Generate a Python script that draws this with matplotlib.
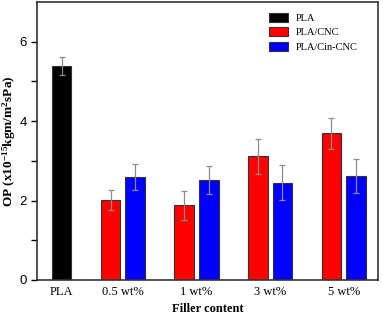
import matplotlib.pyplot as plt
import numpy as np

plt.rcParams['font.family'] = ['Liberation Serif', 'DejaVu Serif']
plt.rcParams['mathtext.fontset'] = 'custom'
plt.rcParams['mathtext.rm'] = 'Liberation Serif:bold'
plt.rcParams['mathtext.default'] = 'rm'

# data
categories = ['PLA', '0.5 wt%', '1 wt%', '3 wt%', '5 wt%']
pla_value = 5.38
pla_err = 0.23
cnc_values = [2.01, 1.88, 3.11, 3.69]
cnc_err = [0.25, 0.37, 0.45, 0.40]
cin_values = [2.60, 2.52, 2.45, 2.62]
cin_err = [0.33, 0.35, 0.44, 0.43]

fig = plt.figure(figsize=(3.83, 3.15), dpi=100)
ax = fig.add_axes([37 / 383, 35 / 315, 341 / 383, 278 / 315])

group_x = np.array([2.5, 5.5, 8.5, 11.5])
w = 0.8
err_kw = dict(ecolor='#8c8c8c', elinewidth=0.9, capsize=2.5, capthick=0.9)

ax.bar([0], [pla_value], w, yerr=[pla_err], color='black', edgecolor='#333333',
       linewidth=0.8, label='PLA', error_kw=err_kw)
ax.bar(group_x - 0.5, cnc_values, w, yerr=cnc_err, color='#ff0000', edgecolor='#333333',
       linewidth=0.8, label='PLA/CNC', error_kw=err_kw)
ax.bar(group_x + 0.5, cin_values, w, yerr=cin_err, color='#0000ff', edgecolor='#333333',
       linewidth=0.8, label='PLA/Cin-CNC', error_kw=err_kw)

ax.set_xlim(-1.0, 12.9)
ax.set_ylim(0, 7)
ax.set_xticks(np.concatenate([[0], group_x]))
ax.set_xticklabels(categories, fontsize=9)
ax.tick_params(axis='x', length=0, pad=4)
ax.set_yticks([0, 2, 4, 6])
ax.set_yticks([1, 3, 5], minor=True)
ax.tick_params(axis='y', which='both', direction='out', length=4, width=1, labelsize=9.5)
for lbl in ax.get_yticklabels():
    lbl.set_fontfamily('Liberation Sans')

for s in ax.spines.values():
    s.set_linewidth(1.2)
    s.set_color('#333333')

ax.set_xlabel('Filler content', fontsize=9, fontweight='bold', labelpad=4)
ax.set_ylabel('OP (x10$^{-15}$kgm/m$^{2}$sPa)', fontsize=9.5, fontweight='bold', labelpad=1)

ax.legend(loc='upper left', bbox_to_anchor=(0.665, 0.98), frameon=False, fontsize=7.5,
          handlelength=1.8, handleheight=1.0, labelspacing=0.4, borderpad=0,
          handletextpad=0.75)

fig.savefig('out.png', dpi=100)
